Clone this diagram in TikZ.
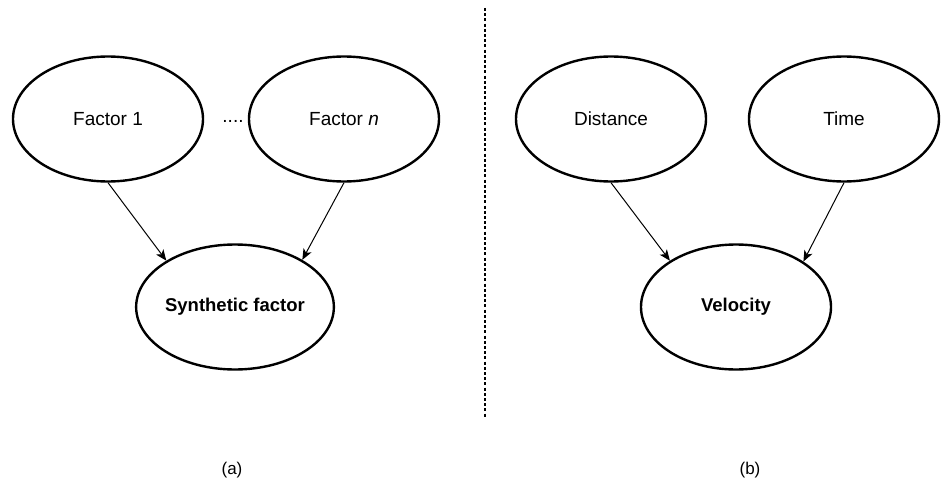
\documentclass[tikz,border=0pt]{standalone}
\usepackage{fontspec}
\setmainfont{Liberation Sans}
\usetikzlibrary{shapes.geometric,arrows.meta}
\begin{document}
\begin{tikzpicture}[x=1pt,y=-1pt,
  factorbox/.style={ellipse,draw,line width=2.4pt,minimum width=190pt,minimum height=125pt,inner sep=0pt,
    font=\fontsize{19}{22}\selectfont},
  resultbox/.style={factorbox,font=\fontsize{18.5}{22}\selectfont\bfseries},
  link/.style={line width=1pt,-{Stealth[length=11pt,width=9pt,inset=3pt]}},
  caption/.style={font=\fontsize{17}{20}\selectfont}
]
\useasboundingbox (0,0) rectangle (942,487);

% (a) generic factors combined into one synthetic factor
\node[factorbox] (f1) at (108,119) {Factor 1};
\node[factorbox] (fn) at (344,119) {Factor \textit{n}};
\node[anchor=base,font=\fontsize{19}{22}\selectfont,inner sep=0pt] (dots) at (233,122) {....};
\node[resultbox] (syn) at (235,307) {Synthetic factor};
\draw[link] (f1.south) -- (syn.146);
\draw[link] (fn.south) -- (syn.35);

% separator between the two panels
\coordinate (sepTop) at (485,8);
\coordinate (sepBot) at (485,418);
\draw[line width=1.2pt,dash pattern=on 3pt off 2.2pt] (sepTop) -- (sepBot);

% (b) distance and time determine velocity
\node[factorbox] (dist) at (611,119) {Distance};
\node[factorbox] (time) at (844,119) {Time};
\node[resultbox] (vel) at (736,307) {Velocity};
\draw[link] (dist.south) -- (vel.145);
\draw[link] (time.south) -- (vel.34);

% panel captions
\node[caption] (capA) at (232,470) {(a)};
\node[caption] (capB) at (750,470) {(b)};
\end{tikzpicture}
\end{document}
